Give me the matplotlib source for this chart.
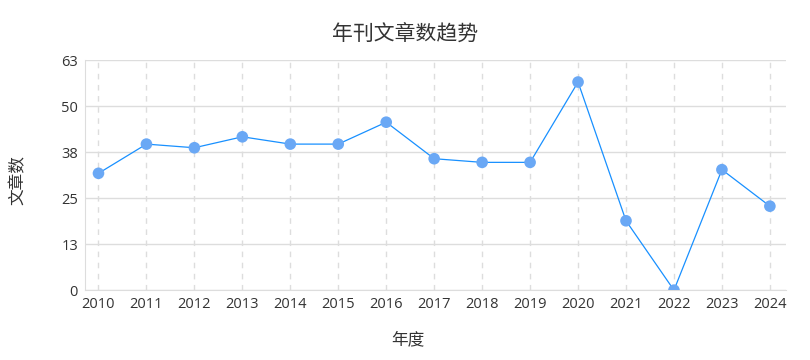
import numpy as np
import matplotlib
matplotlib.use("Agg")
import matplotlib.pyplot as plt

plt.rcParams['font.family'] = ['Noto Sans CJK SC', 'DejaVu Sans']

years = ['2010', '2011', '2012', '2013', '2014', '2015', '2016', '2017',
         '2018', '2019', '2020', '2021', '2022', '2023', '2024']
counts = [32, 40, 39, 42, 40, 40, 46, 36, 35, 35, 57, 19, 0, 33, 23]
y_ticks = np.linspace(0, 63, 6)
y_labels = ['0', '13', '25', '38', '50', '63']

fig = plt.figure(figsize=(8.1, 3.6), dpi=100)
ax = fig.add_axes([0.105, 0.194, 0.865, 0.639])

x = np.arange(len(years))
ax.plot(x, counts, color='#1890ff', lw=0.9, zorder=3)
ax.scatter(x, counts, s=70, color='#6aa8f5', zorder=4, edgecolors='none')

ax.set_xlim(-0.28, len(years) - 1 + 0.33)
ax.set_ylim(0, 63)
ax.set_xticks(x)
ax.set_xticklabels(years)
ax.set_yticks(y_ticks)
ax.set_yticklabels(y_labels)
for lbl in ax.get_xticklabels() + ax.get_yticklabels():
    lbl.set_family(['Open Sans', 'DejaVu Sans'])

ax.grid(axis='y', color='#dddddd', lw=1, zorder=0)
ax.grid(axis='x', color='#dddddd', lw=1, ls=(0, (4, 4)), zorder=0)
for s in ['top', 'right']:
    ax.spines[s].set_visible(False)
for s in ['left', 'bottom']:
    ax.spines[s].set_color('#dddddd')
ax.tick_params(length=0, labelsize=10.5, colors='#333333', pad=5)

ax.set_xlabel('年度', fontsize=12, color='#333333', va='center', ha='center')
ax.xaxis.set_label_coords((408 - 85) / 701, -50 / 230)
ax.set_ylabel('文章数', fontsize=12, color='#333333', va='center', ha='center')
ax.yaxis.set_label_coords((18 - 85) / 701, (290 - 180) / 230)
fig.suptitle('年刊文章数趋势', fontsize=15, color='#333333', y=0.935)

fig.savefig('out.png', dpi=100)
